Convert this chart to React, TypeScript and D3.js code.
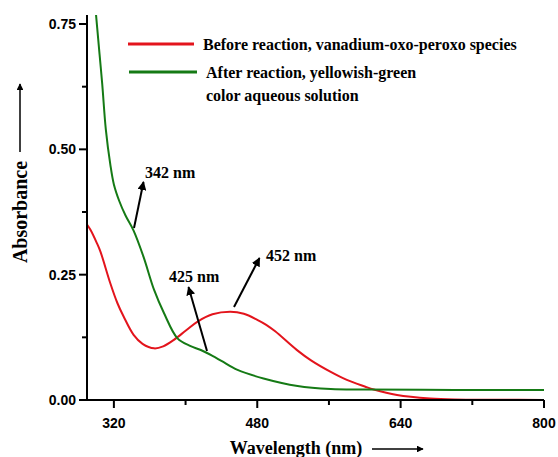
import React from "react";
import * as d3 from "d3";

const W = 558;
const H = 457;

const redWl = [290, 294, 301, 305, 316, 324, 331, 342, 352, 365, 375, 387, 400, 413, 430, 450, 465, 480, 490, 500, 524, 540, 562, 580, 600, 610, 636, 673, 700, 750, 800];
const redAbs = [0.35, 0.339, 0.313, 0.296, 0.233, 0.193, 0.166, 0.13, 0.112, 0.103, 0.107, 0.12, 0.138, 0.156, 0.171, 0.176, 0.172, 0.16, 0.15, 0.137, 0.1, 0.079, 0.056, 0.04, 0.027, 0.021, 0.01, 0.003, 0.001, 0.0005, 0.0];

const greenWl = [292, 296, 300, 304, 307, 311, 316, 320, 326, 333, 342, 353, 365, 376, 391, 405, 417, 430, 440, 458, 487, 525, 562, 600, 700, 800];
const greenAbs = [0.95, 0.85, 0.77, 0.69, 0.63, 0.54, 0.47, 0.43, 0.397, 0.368, 0.338, 0.286, 0.219, 0.173, 0.123, 0.108, 0.0997, 0.088, 0.078, 0.06, 0.043, 0.028, 0.022, 0.021, 0.02, 0.02];

const xTicks = [320, 480, 640, 800];
const xMinor = [400, 560, 720];
const yTicks = [0, 0.25, 0.5, 0.75];
const yMinor = [0.125, 0.375, 0.625];

const legendLabels = ["Before reaction, vanadium-oxo-peroxo species", "After reaction, yellowish-green", "color aqueous solution"];

const annotations = [
  { label: "342 nm", wl: 342, text: [145, 178], from: [134, 228], to: [143.5, 182] },
  { label: "425 nm", wl: 425, text: [169, 282], from: [207, 351], to: [188.5, 287] },
  { label: "452 nm", wl: 452, text: [266, 261], from: [234, 307], to: [259.5, 258] },
];

const RED = "#e3141c";
const GREEN = "#157a15";

export default function App() {
  const x = d3.scaleLinear().domain([290, 800]).range([87, 544]);
  const y = d3.scaleLinear().domain([0, 0.768]).range([400, 15]);
  const line = d3
    .line<[number, number]>()
    .x((d) => x(d[0]))
    .y((d) => y(d[1]))
    .curve(d3.curveCatmullRom.alpha(0.5));
  const redPath = line(redWl.map((w, i) => [w, redAbs[i]]) as [number, number][]) || "";
  const greenPath = line(greenWl.map((w, i) => [w, greenAbs[i]]) as [number, number][]) || "";
  const serif = "'Liberation Serif', 'Times New Roman', serif";
  const sans = "'Liberation Sans', Arial, sans-serif";

  return (
    <svg width={W} height={H} style={{ position: "absolute", left: 0, top: 0, background: "#fff" }}>
      <defs>
        <clipPath id="plot">
          <rect x={87} y={15} width={460} height={386} />
        </clipPath>
        <marker id="ah" viewBox="0 0 10 10" refX="9" refY="5" markerWidth="4.5" markerHeight="4.5" orient="auto" markerUnits="strokeWidth">
          <path d="M0,0 L10,5 L0,10 z" fill="#000" />
        </marker>
      </defs>

      <g clipPath="url(#plot)">
        <path d={redPath} fill="none" stroke={RED} strokeWidth={2} />
        <path d={greenPath} fill="none" stroke={GREEN} strokeWidth={2} />
      </g>

      {/* axes */}
      <line x1={x(290)} x2={x(800)} y1={y(0)} y2={y(0)} stroke="#000" strokeWidth={2} />
      <line x1={x(290)} x2={x(290)} y1={y(0) + 1} y2={y(0.768)} stroke="#000" strokeWidth={2} />
      {xTicks.map((t) => (
        <g key={"xt" + t}>
          <line x1={x(t)} x2={x(t)} y1={y(0)} y2={y(0) + 8} stroke="#000" strokeWidth={2} />
          <text x={x(t)} y={428} textAnchor="middle" fontFamily={sans} fontWeight="bold" fontSize={14}>
            {t}
          </text>
        </g>
      ))}
      {xMinor.map((t) => (
        <line key={"xm" + t} x1={x(t)} x2={x(t)} y1={y(0)} y2={y(0) + 5} stroke="#000" strokeWidth={2} />
      ))}
      {yTicks.map((t) => (
        <g key={"yt" + t}>
          <line x1={x(290) - 8} x2={x(290)} y1={y(t)} y2={y(t)} stroke="#000" strokeWidth={2} />
          <text x={76} y={y(t) + 5} textAnchor="end" fontFamily={sans} fontWeight="bold" fontSize={14}>
            {t.toFixed(2)}
          </text>
        </g>
      ))}
      {yMinor.map((t) => (
        <line key={"ym" + t} x1={x(290) - 5} x2={x(290)} y1={y(t)} y2={y(t)} stroke="#000" strokeWidth={2} />
      ))}

      {/* axis titles */}
      <text x={296} y={454} textAnchor="middle" fontFamily={serif} fontWeight="bold" fontSize={18}>
        Wavelength (nm)
      </text>
      <line x1={372} x2={423} y1={449} y2={449} stroke="#000" strokeWidth={1.5} markerEnd="url(#ah)" />
      <text transform="translate(27,212) rotate(-90)" textAnchor="middle" fontFamily={serif} fontWeight="bold" fontSize={20}>
        Absorbance
      </text>
      <line x1={20} x2={20} y1={152} y2={84} stroke="#000" strokeWidth={1.5} markerEnd="url(#ah)" />

      {/* legend */}
      <line x1={128} x2={194} y1={44} y2={44} stroke={RED} strokeWidth={3} />
      <line x1={129} x2={197} y1={72} y2={72} stroke={GREEN} strokeWidth={3} />
      <text x={203} y={50} fontFamily={serif} fontWeight="bold" fontSize={16}>{legendLabels[0]}</text>
      <text x={206} y={78} fontFamily={serif} fontWeight="bold" fontSize={16}>{legendLabels[1]}</text>
      <text x={206} y={101} fontFamily={serif} fontWeight="bold" fontSize={16}>{legendLabels[2]}</text>

      {/* annotations */}
      {annotations.map((a) => (
        <g key={a.label}>
          <text x={a.text[0]} y={a.text[1]} fontFamily={serif} fontWeight="bold" fontSize={16}>
            {a.label}
          </text>
          <line x1={a.from[0]} y1={a.from[1]} x2={a.to[0]} y2={a.to[1]} stroke="#000" strokeWidth={2} markerEnd="url(#ah)" />
        </g>
      ))}
    </svg>
  );
}
